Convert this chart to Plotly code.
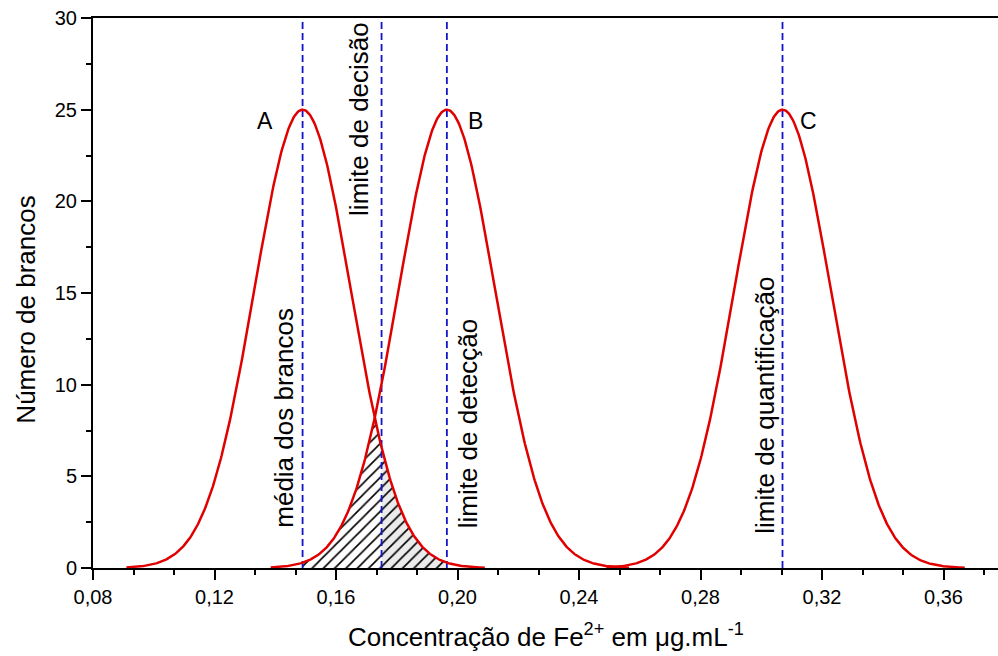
import numpy as np
import plotly.graph_objects as go

# Normal curves: label, mean concentration, peak count, spread
curve_labels = ["A", "B", "C"]
curve_means = [0.149, 0.1965, 0.307]
curve_peaks = [25, 25, 25]
curve_sigmas = [0.0159, 0.0159, 0.0159]

# Reference lines and their captions
line_positions = [0.149, 0.175, 0.1965, 0.307]
line_texts = ["média dos brancos", "limite de decisão", "limite de detecção", "limite de quantificação"]
decision_limit = 0.175

x_tick_vals = [0.08, 0.12, 0.16, 0.20, 0.24, 0.28, 0.32, 0.36]
y_tick_vals = [0, 5, 10, 15, 20, 25, 30]

FONT = "Arial, Liberation Sans, sans-serif"
RED = "#e00000"
BLUE = "#1414c8"


def normal_curve(x, mean, peak, sigma):
    return peak * np.exp(-((x - mean) ** 2) / (2 * sigma ** 2))


fig = go.Figure()

# Hatched overlap between curves A and B, split at the decision limit
ma, mb = curve_means[0], curve_means[1]
for lo, hi, bg in [(ma, decision_limit, "white"), (decision_limit, mb, "#ebebeb")]:
    xs = np.linspace(lo, hi, 200)
    ys = np.minimum(normal_curve(xs, ma, curve_peaks[0], curve_sigmas[0]),
                    normal_curve(xs, mb, curve_peaks[1], curve_sigmas[1]))
    fig.add_trace(go.Scatter(
        x=np.concatenate([[lo], xs, [hi]]), y=np.concatenate([[0], ys, [0]]),
        mode="lines", line=dict(width=0), fill="toself", fillcolor=bg,
        fillpattern=dict(shape="/", fgcolor="black", fgopacity=1, bgcolor=bg,
                         size=8, solidity=0.2),
        hoverinfo="skip", showlegend=False))

# Vertical dashed reference lines
for xp in line_positions:
    fig.add_trace(go.Scatter(x=[xp, xp], y=[0, 30], mode="lines",
                             line=dict(color=BLUE, width=1.8, dash="7px,4px"),
                             hoverinfo="skip", showlegend=False))

# Red distribution curves
for lab, m, p, s in zip(curve_labels, curve_means, curve_peaks, curve_sigmas):
    xs = np.linspace(m - 0.058, m + 0.06, 400)
    fig.add_trace(go.Scatter(x=xs, y=normal_curve(xs, m, p, s), mode="lines",
                             line=dict(color=RED, width=2.5), name=lab,
                             showlegend=False))

annotations = []
# Curve letters
label_offsets = [-0.0125, 0.0093, 0.0084]
for lab, m, off in zip(curve_labels, curve_means, label_offsets):
    annotations.append(dict(x=m + off, y=24.4, text=lab, showarrow=False,
                            font=dict(family=FONT, size=23, color="black"),
                            xanchor="center", yanchor="middle"))

# Rotated captions beside the reference lines
caption_x = [0.1429, 0.1676, 0.2035, 0.3012]
caption_y = [8.2, 24.5, 7.9, 8.9]
for t, cx, cy in zip(line_texts, caption_x, caption_y):
    annotations.append(dict(x=cx, y=cy, text=t, showarrow=False, textangle=-90,
                            font=dict(family=FONT, size=26, color="black"),
                            xanchor="center", yanchor="middle"))

# Axis titles
annotations.append(dict(xref="paper", yref="paper", x=0.5, y=-0.122,
                        text="Concentração de Fe<sup>2+</sup> em \u03bcg.mL<sup>-1</sup>",
                        showarrow=False, font=dict(family=FONT, size=26, color="black"),
                        xanchor="center", yanchor="middle"))
annotations.append(dict(xref="paper", yref="paper", x=-0.075, y=0.47,
                        text="Número de brancos", textangle=-90,
                        showarrow=False, font=dict(family=FONT, size=26, color="black"),
                        xanchor="center", yanchor="middle"))

fig.update_layout(
    width=998, height=656,
    margin=dict(l=93, r=0, t=18, b=88),
    paper_bgcolor="white", plot_bgcolor="white",
    separators=", ",
    annotations=annotations,
    font=dict(family=FONT, color="black"),
)

fig.update_xaxes(
    range=[0.08, 0.08 + 905 / 121.5 * 0.04],
    tickvals=x_tick_vals, tickformat=".2f",
    ticks="outside", ticklen=10, tickwidth=2, tickcolor="black",
    showline=True, linewidth=2, linecolor="black", mirror=True,
    showgrid=False, zeroline=False,
    tickfont=dict(family=FONT, size=20, color="black"),
    minor=dict(tick0=0.08, dtick=0.04 / 3, ticks="outside", ticklen=5,
               tickwidth=2, tickcolor="black", showgrid=False),
)
fig.update_yaxes(
    range=[0, 30],
    tickvals=y_tick_vals,
    ticks="outside", ticklen=10, tickwidth=2, tickcolor="black",
    showline=True, linewidth=2, linecolor="black", mirror=False,
    showgrid=False, zeroline=False,
    tickfont=dict(family=FONT, size=20, color="black"),
    minor=dict(tick0=0, dtick=2.5, ticks="outside", ticklen=5,
               tickwidth=2, tickcolor="black", showgrid=False),
)

fig.write_html("out.html")
